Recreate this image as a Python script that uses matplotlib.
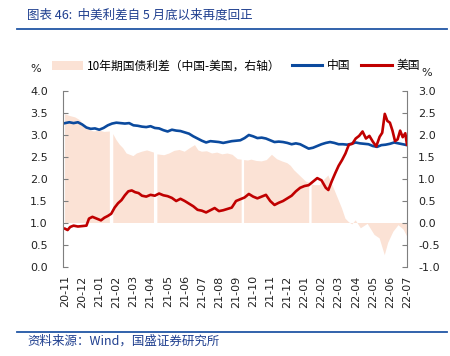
import numpy as np
import matplotlib
matplotlib.use("Agg")
import matplotlib.pyplot as plt
from matplotlib.patches import Patch
from matplotlib.lines import Line2D

plt.rcParams['font.family'] = ['DejaVu Sans', 'Noto Sans CJK SC']

# ---- data (x = months since 2020-11) ----
tick_labels = ['20-11', '20-12', '21-01', '21-02', '21-03', '21-04', '21-05', '21-06',
               '21-07', '21-08', '21-09', '21-10', '21-11', '21-12', '22-01', '22-02',
               '22-03', '22-04', '22-05', '22-06', '22-07']

china_x = [0.0, 0.25, 0.5, 0.75, 1.0, 1.25, 1.5, 1.75, 2.0, 2.25, 2.5, 2.75, 3.0, 3.25, 3.5,
           3.75, 4.0, 4.25, 4.5, 4.75, 5.0, 5.25, 5.5, 5.75, 6.0, 6.25, 6.5, 6.75, 7.0, 7.25,
           7.5, 7.75, 8.0, 8.25, 8.5, 8.75, 9.0, 9.25, 9.5, 9.75, 10.0, 10.25, 10.5, 10.75,
           11.0, 11.25, 11.5, 11.75, 12.0, 12.25, 12.5, 12.75, 13.0, 13.25, 13.5, 13.75, 14.0,
           14.25, 14.5, 14.75, 15.0, 15.25, 15.5, 15.75, 16.0, 16.25, 16.5, 16.75, 17.0, 17.25,
           17.5, 17.75, 18.0, 18.25, 18.5, 18.75, 19.0, 19.25, 19.5, 19.75, 20.0]
china_y = [3.27, 3.29, 3.27, 3.29, 3.24, 3.17, 3.14, 3.15, 3.12, 3.16, 3.22, 3.26, 3.28, 3.27, 3.26,
           3.27, 3.22, 3.21, 3.19, 3.18, 3.20, 3.16, 3.15, 3.11, 3.08, 3.12, 3.10, 3.09, 3.06, 3.03,
           2.97, 2.92, 2.87, 2.83, 2.86, 2.85, 2.84, 2.82, 2.84, 2.86, 2.87, 2.88, 2.93, 3.00,
           2.97, 2.93, 2.94, 2.92, 2.88, 2.84, 2.85, 2.84, 2.82, 2.79, 2.81, 2.79, 2.74,
           2.69, 2.71, 2.75, 2.79, 2.82, 2.84, 2.82, 2.79, 2.79, 2.78, 2.80, 2.83, 2.81,
           2.80, 2.79, 2.75, 2.73, 2.77, 2.78, 2.80, 2.83, 2.81, 2.79, 2.77]

us_x = [0.0, 0.15, 0.3, 0.5, 0.75, 1.0, 1.25, 1.4, 1.6, 1.85, 2.1, 2.3, 2.5, 2.7, 2.9, 3.1, 3.3,
        3.5, 3.7, 3.9, 4.1, 4.3, 4.5, 4.75, 5.0, 5.25, 5.5, 5.75, 6.0, 6.25, 6.5, 6.75, 7.0,
        7.25, 7.5, 7.75, 8.0, 8.25, 8.5, 8.75, 9.0, 9.25, 9.5, 9.75, 10.0, 10.25, 10.5, 10.75,
        11.0, 11.25, 11.5, 11.75, 12.0, 12.25, 12.5, 12.75, 13.0, 13.25, 13.5, 13.75, 14.0,
        14.25, 14.5, 14.75, 15.0, 15.25, 15.4, 15.6, 15.8, 16.0, 16.2, 16.4, 16.6, 16.8, 17.0,
        17.2, 17.4, 17.6, 17.8, 18.0, 18.2, 18.4, 18.55, 18.7, 18.85, 19.0, 19.15, 19.3, 19.45,
        19.6, 19.75, 19.9, 20.0]
us_y = [0.87, 0.84, 0.91, 0.94, 0.92, 0.93, 0.94, 1.10, 1.14, 1.10, 1.06, 1.12, 1.16, 1.21, 1.35,
        1.45, 1.52, 1.63, 1.72, 1.74, 1.70, 1.68, 1.62, 1.60, 1.64, 1.62, 1.67, 1.63, 1.61, 1.57,
        1.50, 1.55, 1.50, 1.44, 1.38, 1.30, 1.28, 1.24, 1.29, 1.34, 1.27, 1.29, 1.32, 1.35, 1.50,
        1.54, 1.58, 1.66, 1.60, 1.56, 1.60, 1.64, 1.50, 1.41, 1.46, 1.50, 1.56, 1.62, 1.72, 1.80,
        1.84, 1.86, 1.94, 2.02, 1.97, 1.80, 1.75, 1.95, 2.13, 2.30, 2.43, 2.58, 2.78, 2.80, 2.92,
        2.98, 3.08, 2.92, 2.98, 2.85, 2.74, 2.96, 3.05, 3.48, 3.32, 3.28, 3.10, 2.86, 2.90, 3.10,
        2.95, 3.04, 2.78]

# 10Y spread China - US (right axis); nan = missing data day
spread_x = [0.0, 0.3, 0.6, 0.9, 1.1, 1.3, 1.5, 1.7, 2.0, 2.3, 2.62, 2.72, 2.82, 3.0, 3.2, 3.4,
            3.6, 3.8, 4.0, 4.2, 4.5, 4.8, 5.2, 5.3, 5.4, 5.6, 5.8, 6.1, 6.4, 6.7, 7.0, 7.3, 7.6,
            7.8, 8.0, 8.3, 8.6, 8.9, 9.2, 9.5, 9.8, 10.1, 10.33, 10.4, 10.47, 10.7, 10.9, 11.2,
            11.5, 11.8, 12.1, 12.4, 12.7, 13.0, 13.2, 13.4, 13.8, 14.1, 14.28, 14.35, 14.42,
            14.6, 14.9, 15.2, 15.4, 15.8, 16.0, 16.2, 16.4, 16.6, 16.8, 17.0, 17.3, 17.7, 18.1,
            18.4, 18.7, 18.9, 19.2, 19.5, 19.8, 20.0]
spread_y = [2.47, 2.43, 2.40, 2.33, 2.22, 2.16, 2.10, 2.08, 2.10, 2.07, 2.08, np.nan, 2.02, 1.89,
            1.78, 1.70, 1.58, 1.55, 1.52, 1.58, 1.62, 1.65, 1.60, np.nan, 1.56, 1.55, 1.54, 1.58,
            1.64, 1.66, 1.62, 1.70, 1.77, 1.65, 1.62, 1.63, 1.58, 1.60, 1.56, 1.58, 1.55, 1.45,
            1.44, np.nan, 1.43, 1.42, 1.44, 1.41, 1.40, 1.43, 1.55, 1.45, 1.40, 1.36, 1.30, 1.20,
            1.05, 0.94, 0.92, np.nan, 0.88, 0.86, 0.86, 1.00, 1.08, 0.71, 0.52, 0.33, 0.10, 0.02,
            -0.03, 0.06, -0.12, -0.02, -0.27, -0.35, -0.73, -0.45, -0.20, -0.05, -0.15, -0.30]

legend_labels = ['10年期国债利差（中国-美国，右轴）', '中国', '美国']

# ---- styling ----
c_china = '#0B4A9E'
c_us = '#C00000'
c_area = '#FBE2D5'
c_title = '#1F3F8F'
c_spine = '#7F7F7F'

fig = plt.figure(figsize=(4.5, 3.56), dpi=100)
ax = fig.add_axes([63 / 450, 1 - 267 / 356, (407 - 63) / 450, (267 - 91) / 356])
ax2 = ax.twinx()

ax2.fill_between(spread_x, 0, spread_y, color=c_area, linewidth=0)
ax.plot(china_x, china_y, color=c_china, lw=1.9, solid_joinstyle='round')
ax.plot(us_x, us_y, color=c_us, lw=1.9, solid_joinstyle='round')

ax.set_zorder(ax2.get_zorder() + 1)
ax.patch.set_visible(False)

ax.set_xlim(-0.12, 20.0)
ax.set_ylim(0, 4)
ax2.set_ylim(-1, 3)
ax.set_yticks(np.arange(0, 4.01, 0.5))
ax.set_yticklabels([f'{v:.1f}' for v in np.arange(0, 4.01, 0.5)])
ax2.set_yticks(np.arange(-1, 3.01, 0.5))
ax2.set_yticklabels([f'{v:.1f}' for v in np.arange(-1, 3.01, 0.5)])
ax.set_xticks(range(len(tick_labels)))
ax.set_xticklabels(tick_labels, rotation=90)

for a in (ax, ax2):
    for s in ('top', 'bottom'):
        a.spines[s].set_visible(False)
    a.spines['left'].set_color(c_spine)
    a.spines['right'].set_color(c_spine)
    a.spines['left'].set_linewidth(0.8)
    a.spines['right'].set_linewidth(0.8)
ax.spines['right'].set_visible(False)
ax2.spines['left'].set_visible(False)

ax.tick_params(axis='y', direction='in', length=3.5, width=0.8, color=c_spine,
               labelsize=8, pad=11, labelcolor='#222222')
ax2.tick_params(axis='y', direction='in', length=3.5, width=0.8, color=c_spine,
                labelsize=8, pad=8, labelcolor='#222222')
ax.tick_params(axis='x', length=0, labelsize=8, pad=6, labelcolor='#222222')

# legend
handles = [Patch(facecolor=c_area, edgecolor='none'),
           Line2D([], [], color=c_china, lw=2.2),
           Line2D([], [], color=c_us, lw=2.2)]
fig.legend(handles, legend_labels, loc='center left', bbox_to_anchor=(52 / 450, 1 - 66 / 356),
           ncol=3, frameon=False, handlelength=2.6, handleheight=0.9, handletextpad=0.4,
           columnspacing=0.9, borderaxespad=0, borderpad=0,
           prop={'family': ['Noto Sans CJK SC'], 'size': 8.5})

fig.text(36 / 450, 1 - 69 / 356, '%', ha='center', va='center', fontsize=8, color='#222222')
fig.text(427 / 450, 1 - 73 / 356, '%', ha='center', va='center', fontsize=8, color='#222222')

# title / source with rules
fig.text(27 / 450, 1 - 15 / 356, '图表 46:  中美利差自 5 月底以来再度回正', ha='left', va='center',
         fontsize=9, color=c_title, family=['Noto Sans CJK SC', 'DejaVu Sans'], style='italic')
fig.add_artist(Line2D([17 / 450, 447 / 450], [1 - 28.5 / 356, 1 - 28.5 / 356],
                      color='#2156A5', lw=1.3, transform=fig.transFigure))
fig.add_artist(Line2D([17 / 450, 447 / 450], [1 - 331.5 / 356, 1 - 331.5 / 356],
                      color='#2156A5', lw=1.3, transform=fig.transFigure))
fig.text(27 / 450, 1 - 341 / 356, '资料来源：Wind，国盛证券研究所', ha='left', va='center',
         fontsize=9, color=c_title, family=['Noto Sans CJK SC', 'DejaVu Sans'], style='italic')

fig.savefig('out.png', dpi=100)
